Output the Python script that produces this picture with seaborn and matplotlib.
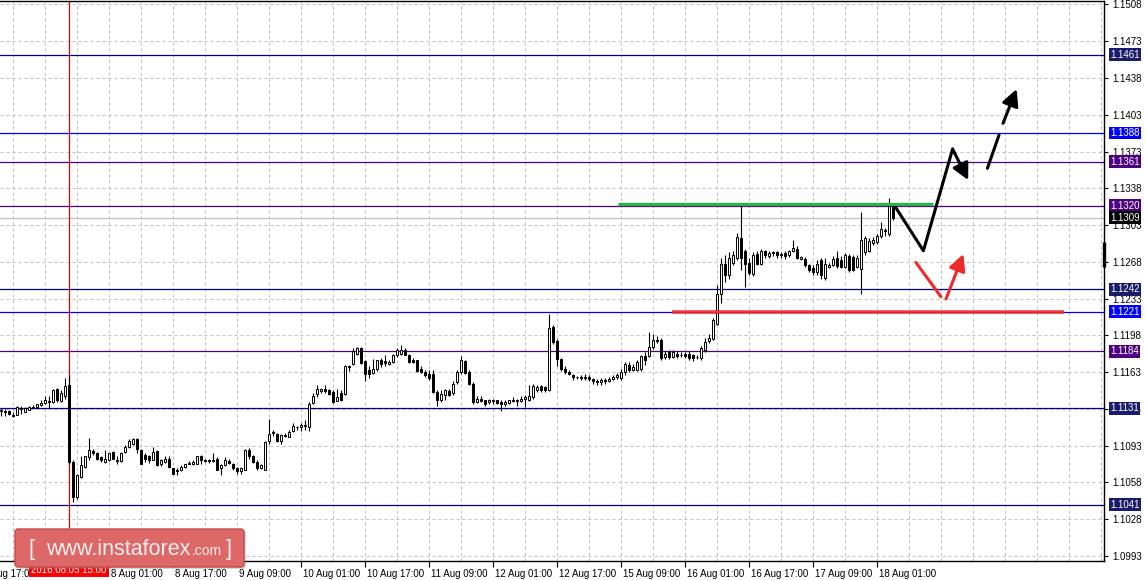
import numpy as np
import pandas as pd
import matplotlib
matplotlib.use("Agg")
import matplotlib.pyplot as plt
import matplotlib.transforms as mtransforms
from matplotlib.patches import FancyBboxPatch
import seaborn as sns

# H1 candles, EURUSD, 4 Aug 22:00 .. 18 Aug 05:00 (weekends skipped)
opens = [1.1128, 1.1128, 1.1128, 1.1125, 1.1125, 1.1131, 1.1127, 1.1129, 1.1131, 1.1132,
         1.1134, 1.1136, 1.1138, 1.1137, 1.1149, 1.1138, 1.1142, 1.1153, 1.1081, 1.1048,
         1.1067, 1.1076, 1.1085, 1.1091, 1.1089, 1.1085, 1.1081, 1.1083, 1.1090, 1.1083,
         1.1082, 1.1090, 1.1095, 1.1098, 1.1102, 1.1092, 1.1087, 1.1086, 1.1083, 1.1091,
         1.1079, 1.1081, 1.1084, 1.1075, 1.1073, 1.1073, 1.1076, 1.1079, 1.1079, 1.1079,
         1.1086, 1.1083, 1.1083, 1.1082, 1.1084, 1.1075, 1.1078, 1.1082, 1.1079, 1.1075,
         1.1072, 1.1073, 1.1092, 1.1086, 1.1081, 1.1075, 1.1073, 1.1100, 1.1109, 1.1107,
         1.1100, 1.1106, 1.1104, 1.1110, 1.1113, 1.1113, 1.1115, 1.1113, 1.1136, 1.1144,
         1.1147, 1.1149, 1.1148, 1.1146, 1.1138, 1.1145, 1.1144, 1.1170, 1.1172, 1.1182,
         1.1187, 1.1175, 1.1167, 1.1164, 1.1168, 1.1176, 1.1175, 1.1172, 1.1174, 1.1181,
         1.1182, 1.1185, 1.1181, 1.1176, 1.1176, 1.1168, 1.1165, 1.1163, 1.1163, 1.1146,
         1.1139, 1.1143, 1.1147, 1.1145, 1.1155, 1.1165, 1.1175, 1.1165, 1.1154, 1.1137,
         1.1140, 1.1139, 1.1137, 1.1138, 1.1139, 1.1137, 1.1135, 1.1136, 1.1139, 1.1138,
         1.1138, 1.1140, 1.1139, 1.1141, 1.1148, 1.1152, 1.1151, 1.1148, 1.1207, 1.1194,
         1.1177, 1.1168, 1.1165, 1.1162, 1.1160, 1.1160, 1.1159, 1.1160, 1.1158, 1.1156,
         1.1155, 1.1157, 1.1156, 1.1158, 1.1160, 1.1159, 1.1165, 1.1171, 1.1167, 1.1167,
         1.1168, 1.1180, 1.1180, 1.1188, 1.1195, 1.1195, 1.1179, 1.1183, 1.1179, 1.1182,
         1.1181, 1.1182, 1.1182, 1.1181, 1.1179, 1.1178, 1.1185, 1.1194, 1.1196, 1.1210,
         1.1238, 1.1266, 1.1255, 1.1267, 1.1271, 1.1290, 1.1278, 1.1267, 1.1256, 1.1275,
         1.1266, 1.1278, 1.1273, 1.1276, 1.1277, 1.1275, 1.1276, 1.1274, 1.1278, 1.1280,
         1.1270, 1.1270, 1.1265, 1.1262, 1.1258, 1.1269, 1.1253, 1.1263, 1.1265, 1.1271,
         1.1269, 1.1263, 1.1273, 1.1272, 1.1263, 1.1261, 1.1277, 1.1278, 1.1285, 1.1286,
         1.1292, 1.1296, 1.1294, 1.1320]
highs = [1.1131, 1.1130, 1.1129, 1.1127, 1.1133, 1.1133, 1.1132, 1.1133, 1.1134, 1.1135,
         1.1139, 1.1142, 1.1142, 1.1149, 1.1150, 1.1148, 1.1159, 1.1162, 1.1083, 1.1070,
         1.1086, 1.1086, 1.1103, 1.1093, 1.1090, 1.1086, 1.1092, 1.1089, 1.1091, 1.1086,
         1.1090, 1.1097, 1.1102, 1.1103, 1.1103, 1.1093, 1.1089, 1.1087, 1.1095, 1.1092,
         1.1084, 1.1086, 1.1086, 1.1075, 1.1075, 1.1078, 1.1079, 1.1082, 1.1083, 1.1086,
         1.1087, 1.1084, 1.1084, 1.1089, 1.1085, 1.1079, 1.1085, 1.1084, 1.1080, 1.1076,
         1.1076, 1.1093, 1.1094, 1.1087, 1.1083, 1.1079, 1.1100, 1.1121, 1.1111, 1.1108,
         1.1107, 1.1108, 1.1111, 1.1117, 1.1114, 1.1117, 1.1120, 1.1137, 1.1145, 1.1153,
         1.1150, 1.1153, 1.1149, 1.1148, 1.1149, 1.1148, 1.1171, 1.1171, 1.1187, 1.1188,
         1.1188, 1.1176, 1.1170, 1.1177, 1.1176, 1.1178, 1.1181, 1.1176, 1.1182, 1.1187,
         1.1190, 1.1187, 1.1182, 1.1178, 1.1176, 1.1170, 1.1167, 1.1167, 1.1167, 1.1148,
         1.1148, 1.1149, 1.1149, 1.1156, 1.1167, 1.1180, 1.1176, 1.1167, 1.1155, 1.1142,
         1.1142, 1.1139, 1.1140, 1.1140, 1.1139, 1.1139, 1.1139, 1.1139, 1.1141, 1.1140,
         1.1142, 1.1143, 1.1153, 1.1154, 1.1153, 1.1153, 1.1152, 1.1219, 1.1209, 1.1196,
         1.1178, 1.1170, 1.1167, 1.1163, 1.1161, 1.1162, 1.1163, 1.1162, 1.1159, 1.1158,
         1.1159, 1.1159, 1.1160, 1.1162, 1.1164, 1.1168, 1.1174, 1.1174, 1.1172, 1.1176,
         1.1181, 1.1183, 1.1202, 1.1200, 1.1198, 1.1197, 1.1184, 1.1185, 1.1185, 1.1184,
         1.1183, 1.1183, 1.1184, 1.1182, 1.1181, 1.1189, 1.1197, 1.1200, 1.1215, 1.1246,
         1.1271, 1.1274, 1.1277, 1.1278, 1.1295, 1.1320, 1.1280, 1.1271, 1.1277, 1.1278,
         1.1280, 1.1279, 1.1278, 1.1278, 1.1278, 1.1277, 1.1278, 1.1279, 1.1288, 1.1282,
         1.1273, 1.1272, 1.1266, 1.1265, 1.1269, 1.1271, 1.1271, 1.1267, 1.1273, 1.1278,
         1.1273, 1.1276, 1.1275, 1.1274, 1.1274, 1.1314, 1.1292, 1.1290, 1.1291, 1.1294,
         1.1305, 1.1299, 1.1327, 1.1320]
lows = [1.1124, 1.1124, 1.1125, 1.1123, 1.1125, 1.1126, 1.1127, 1.1129, 1.1131, 1.1131,
        1.1133, 1.1135, 1.1131, 1.1136, 1.1137, 1.1137, 1.1140, 1.1079, 1.1043, 1.1046,
        1.1066, 1.1075, 1.1083, 1.1087, 1.1083, 1.1081, 1.1080, 1.1082, 1.1084, 1.1079,
        1.1081, 1.1089, 1.1094, 1.1097, 1.1089, 1.1079, 1.1081, 1.1080, 1.1083, 1.1077,
        1.1077, 1.1080, 1.1075, 1.1070, 1.1069, 1.1072, 1.1075, 1.1079, 1.1078, 1.1079,
        1.1079, 1.1081, 1.1080, 1.1081, 1.1073, 1.1069, 1.1077, 1.1079, 1.1073, 1.1070,
        1.1070, 1.1073, 1.1084, 1.1080, 1.1073, 1.1074, 1.1073, 1.1098, 1.1105, 1.1099,
        1.1098, 1.1104, 1.1104, 1.1109, 1.1111, 1.1110, 1.1111, 1.1110, 1.1135, 1.1141,
        1.1145, 1.1145, 1.1143, 1.1136, 1.1138, 1.1138, 1.1143, 1.1166, 1.1171, 1.1181,
        1.1172, 1.1156, 1.1159, 1.1163, 1.1166, 1.1169, 1.1170, 1.1171, 1.1173, 1.1179,
        1.1181, 1.1181, 1.1173, 1.1173, 1.1165, 1.1164, 1.1160, 1.1157, 1.1145, 1.1133,
        1.1137, 1.1139, 1.1142, 1.1143, 1.1154, 1.1163, 1.1163, 1.1153, 1.1135, 1.1136,
        1.1137, 1.1133, 1.1135, 1.1135, 1.1135, 1.1128, 1.1133, 1.1135, 1.1137, 1.1133,
        1.1137, 1.1132, 1.1138, 1.1140, 1.1146, 1.1146, 1.1146, 1.1147, 1.1191, 1.1170,
        1.1166, 1.1163, 1.1162, 1.1157, 1.1158, 1.1157, 1.1157, 1.1156, 1.1154, 1.1153,
        1.1153, 1.1154, 1.1155, 1.1157, 1.1158, 1.1157, 1.1162, 1.1165, 1.1166, 1.1166,
        1.1166, 1.1171, 1.1179, 1.1186, 1.1192, 1.1176, 1.1177, 1.1177, 1.1178, 1.1178,
        1.1179, 1.1178, 1.1176, 1.1175, 1.1177, 1.1176, 1.1183, 1.1192, 1.1195, 1.1209,
        1.1229, 1.1249, 1.1252, 1.1265, 1.1269, 1.1260, 1.1244, 1.1255, 1.1254, 1.1265,
        1.1265, 1.1271, 1.1271, 1.1273, 1.1271, 1.1271, 1.1270, 1.1272, 1.1277, 1.1270,
        1.1269, 1.1263, 1.1258, 1.1255, 1.1255, 1.1252, 1.1251, 1.1262, 1.1264, 1.1262,
        1.1262, 1.1262, 1.1258, 1.1259, 1.1262, 1.1238, 1.1274, 1.1277, 1.1283, 1.1284,
        1.1290, 1.1292, 1.1292, 1.1307]
closes = [1.1129, 1.1127, 1.1126, 1.1124, 1.1132, 1.1130, 1.1131, 1.1132, 1.1132, 1.1135,
          1.1136, 1.1139, 1.1137, 1.1148, 1.1139, 1.1145, 1.1152, 1.1081, 1.1048, 1.1069,
          1.1078, 1.1086, 1.1092, 1.1089, 1.1084, 1.1083, 1.1084, 1.1089, 1.1084, 1.1082,
          1.1089, 1.1095, 1.1100, 1.1102, 1.1093, 1.1079, 1.1084, 1.1083, 1.1090, 1.1078,
          1.1083, 1.1084, 1.1076, 1.1070, 1.1072, 1.1076, 1.1079, 1.1080, 1.1081, 1.1086,
          1.1083, 1.1082, 1.1082, 1.1083, 1.1073, 1.1078, 1.1083, 1.1080, 1.1075, 1.1072,
          1.1075, 1.1092, 1.1086, 1.1081, 1.1075, 1.1078, 1.1099, 1.1107, 1.1108, 1.1100,
          1.1106, 1.1105, 1.1109, 1.1114, 1.1113, 1.1115, 1.1114, 1.1135, 1.1142, 1.1149,
          1.1149, 1.1147, 1.1144, 1.1137, 1.1141, 1.1139, 1.1170, 1.1169, 1.1184, 1.1187,
          1.1173, 1.1163, 1.1163, 1.1168, 1.1176, 1.1172, 1.1173, 1.1174, 1.1181, 1.1185,
          1.1185, 1.1181, 1.1174, 1.1174, 1.1166, 1.1165, 1.1162, 1.1159, 1.1146, 1.1139,
          1.1144, 1.1148, 1.1143, 1.1154, 1.1165, 1.1176, 1.1164, 1.1154, 1.1137, 1.1140,
          1.1138, 1.1135, 1.1139, 1.1139, 1.1136, 1.1135, 1.1137, 1.1139, 1.1138, 1.1139,
          1.1140, 1.1141, 1.1142, 1.1152, 1.1151, 1.1148, 1.1148, 1.1206, 1.1193, 1.1177,
          1.1168, 1.1165, 1.1163, 1.1160, 1.1160, 1.1159, 1.1160, 1.1158, 1.1156, 1.1155,
          1.1157, 1.1156, 1.1158, 1.1160, 1.1162, 1.1165, 1.1172, 1.1167, 1.1169, 1.1174,
          1.1180, 1.1176, 1.1188, 1.1195, 1.1194, 1.1178, 1.1182, 1.1179, 1.1183, 1.1180,
          1.1181, 1.1180, 1.1178, 1.1178, 1.1179, 1.1187, 1.1193, 1.1197, 1.1213, 1.1238,
          1.1266, 1.1255, 1.1271, 1.1274, 1.1291, 1.1271, 1.1266, 1.1257, 1.1274, 1.1266,
          1.1278, 1.1274, 1.1276, 1.1277, 1.1274, 1.1274, 1.1273, 1.1278, 1.1281, 1.1271,
          1.1272, 1.1265, 1.1260, 1.1258, 1.1266, 1.1255, 1.1266, 1.1265, 1.1270, 1.1264,
          1.1263, 1.1274, 1.1260, 1.1260, 1.1271, 1.1288, 1.1290, 1.1287, 1.1288, 1.1292,
          1.1298, 1.1297, 1.1320, 1.1309]

price_labels = ["1.1508", "1.1473", "1.1438", "1.1403", "1.1373", "1.1338", "1.1303", "1.1268",
                "1.1233", "1.1198", "1.1163", "1.1128", "1.1093", "1.1058", "1.1028", "1.0993"]

levels = [1.1461, 1.1388, 1.1361, 1.1320, 1.1242, 1.1221, 1.1184, 1.1131, 1.1041]
level_kinds = ["navy", "blue", "indigo", "indigo", "navy", "blue", "indigo", "navy", "navy"]
last_price = 1.1309
event_bar = 17
event_label = "2016.08.05 15:00"

# analyst drawings (bar index, price)
green_x, green_y = [154.3, 233.0], [1.1322, 1.1322]
red_x, red_y = [167.8, 265.8], [1.1221, 1.1221]
black_path_x, black_path_y = [223.75, 230.6, 237.9], [1.1318, 1.1278, 1.1373]
black_arrow = ((237.9, 1.1373), (241.8, 1.1344))
dash_seg_x, dash_seg_y = [246.6, 249.5], [1.1355, 1.1386]
dash_arrow = ((250.5, 1.1397), (253.9, 1.1429))
red_path_x, red_path_y = [228.75, 235.0], [1.1267, 1.1235]
red_arrow = ((236.25, 1.1233), (240.6, 1.1275))

line_colors = {"navy": "#000080", "blue": "#0000ff", "indigo": "#4b0082"}
box_colors = {"navy": "#1b1b6b", "blue": "#0000ff", "indigo": "#4b0082"}

sns.set_theme(style="white")
plt.rcParams["font.family"] = ["Liberation Sans", "DejaVu Sans"]

fig = plt.figure(figsize=(11.46, 5.80), dpi=100)
ax = fig.add_axes([0.0, 19 / 580, 1104 / 1146, 560.5 / 580])

x = np.arange(len(opens))
o, h, l, c = map(np.array, (opens, highs, lows, closes))

# hourly bar clock; first candle is bar 0 (4 Aug 22:00)
times = pd.date_range("2016-08-04 17:00", "2016-08-26 23:00", freq="h")
times = times[times.dayofweek < 5]
offset = 5
tick_idx = list(range(0, 225, 16))
tick_pos = [i - offset for i in tick_idx]
tick_lab = [f"{times[i].day} {times[i]:%b %H:%M}" for i in tick_idx]
# the label under the event marker is hidden by the red time box
tick_lab = ["" if p == event_bar - 6 else s for p, s in zip(tick_pos, tick_lab)]

# grid
for yv in np.linspace(1.1508, 1.0993, len(price_labels)):
    ax.axhline(yv, color="#c0c0c0", lw=0.72, ls=(0, (3, 3)), zorder=0.5)
for xv in range(3, 276, 8):
    ax.axvline(xv, color="#c0c0c0", lw=0.72, ls=(0, (3, 3)), zorder=0.5)

# level lines
for lv, kind in zip(levels, level_kinds):
    ax.axhline(lv, color=line_colors[kind], lw=0.9, zorder=1)
ax.axhline(last_price, color="#c0c0c0", lw=0.9, zorder=1)
ax.axvline(event_bar, color="#e00000", lw=0.9, zorder=1.2)

# candles
body_lo = np.minimum(o, c)
body_h = np.maximum(np.abs(c - o), 0.00001)
fills = np.where(c >= o, "white", "black")
ax.vlines(x, l, h, color="black", lw=0.8, zorder=2)
ax.bar(x, body_h, bottom=body_lo, width=0.6, color=fills, edgecolor="black",
       linewidth=0.7, zorder=2.5)

# drawings
sns.lineplot(x=green_x, y=green_y, color="#2db24a", lw=2.4, ax=ax, zorder=4,
             solid_capstyle="butt")
sns.lineplot(x=red_x, y=red_y, color="#ee2b2b", lw=2.6, ax=ax, zorder=4, alpha=0.9,
             solid_capstyle="butt")
sns.lineplot(x=black_path_x, y=black_path_y, sort=False, color="black", lw=2.2, ax=ax, zorder=5)
sns.lineplot(x=dash_seg_x, y=dash_seg_y, sort=False, color="black", lw=2.2, ax=ax, zorder=5)
sns.lineplot(x=red_path_x, y=red_path_y, sort=False, color="#ee2b2b", lw=2.2, ax=ax, zorder=5)
for (s, t), col in [(black_arrow, "black"), (dash_arrow, "black"), (red_arrow, "#ee2b2b")]:
    ax.annotate("", xy=t, xytext=s, zorder=5,
                arrowprops=dict(arrowstyle="-|>,head_length=0.55,head_width=0.28",
                                color=col, lw=2.2, mutation_scale=18,
                                shrinkA=0, shrinkB=0))

# axes styling
for side in ["top", "right", "bottom"]:
    ax.spines[side].set_color("black")
    ax.spines[side].set_linewidth(1.0)
ax.spines["left"].set_visible(False)
ax.yaxis.tick_right()
ax.set_yticks(np.linspace(1.1508, 1.0993, len(price_labels)), price_labels)
ax.set_xticks(tick_pos[1:], tick_lab[1:])
ax.set_xlim(-0.25, 275.75)
ax.set_ylim(1.09883, 1.15117)
ax.tick_params(axis="y", which="major", right=True, left=False, direction="out",
               length=3, width=0.8, pad=3, labelsize=7, colors="black")
ax.tick_params(axis="x", which="major", bottom=True, direction="out", length=4,
               width=0.8, pad=2, labelsize=7, colors="black")
shift = mtransforms.ScaledTranslation(2 / 100, 0, fig.dpi_scale_trans)
for lbl in ax.get_xticklabels():
    lbl.set_ha("left")
    lbl.set_transform(lbl.get_transform() + shift)
ax.set_xlabel("")
ax.set_ylabel("")
# first time label sits left of the view and is cut by the edge
ax.annotate(tick_lab[0], xy=(tick_pos[0], 0), xycoords=("data", "axes fraction"),
            xytext=(2, -8.3), textcoords="offset pixels", ha="left", va="top",
            fontsize=7, color="black", annotation_clip=False)

# price boxes on the right scale
ytr = ax.get_yaxis_transform()
for lv, kind in zip(levels, level_kinds):
    ax.annotate(f"{lv:.4f}", xy=(1, lv), xycoords=ytr, xytext=(6, 0),
                textcoords="offset pixels", ha="left", va="center", fontsize=7,
                color="white", annotation_clip=False, zorder=6,
                bbox=dict(boxstyle="square,pad=0.15", fc=box_colors[kind], ec="none"))
ax.annotate(f"{last_price:.4f}", xy=(1, last_price), xycoords=ytr, xytext=(6, 0),
            textcoords="offset pixels", ha="left", va="center", fontsize=7,
            color="white", annotation_clip=False, zorder=6,
            bbox=dict(boxstyle="square,pad=0.15", fc="black", ec="none"))
ax.plot([1.0, 1.0], [1.1286, 1.1263], transform=ytr, color="black", lw=2.4,
        clip_on=False, zorder=6, solid_capstyle="butt")

# event time box under the axis
ax.annotate(event_label, xy=(event_bar, 0), xycoords=("data", "axes fraction"),
            xytext=(0, -4), textcoords="offset pixels", ha="center", va="top",
            fontsize=7, color="white", annotation_clip=False, zorder=7,
            bbox=dict(boxstyle="square,pad=0.2", fc="#ff0000", ec="none"))

# watermark
ident = mtransforms.IdentityTransform()
fig.patches.append(FancyBboxPatch((18, 11), 228, 38, boxstyle="round,pad=0,rounding_size=3",
                                  fc="#8a8a8a", ec="none", alpha=0.35, transform=ident,
                                  figure=fig, zorder=8))
fig.patches.append(FancyBboxPatch((15, 13), 229, 38, boxstyle="round,pad=0,rounding_size=3",
                                  fc="#de6868", ec="#c44a4a", lw=1, transform=ident,
                                  figure=fig, zorder=9))
wm = dict(transform=ident, color="#fdf1f1", va="baseline", zorder=10)
fig.text(28, 25, "[", fontsize=15.5, **wm)
fig.text(46, 25, "www.instaforex", fontsize=15.5, **wm)
fig.text(192, 25, ".com", fontsize=10, **wm)
fig.text(226, 25, "]", fontsize=15.5, **wm)

fig.savefig("out.png", dpi=100, facecolor="white")
